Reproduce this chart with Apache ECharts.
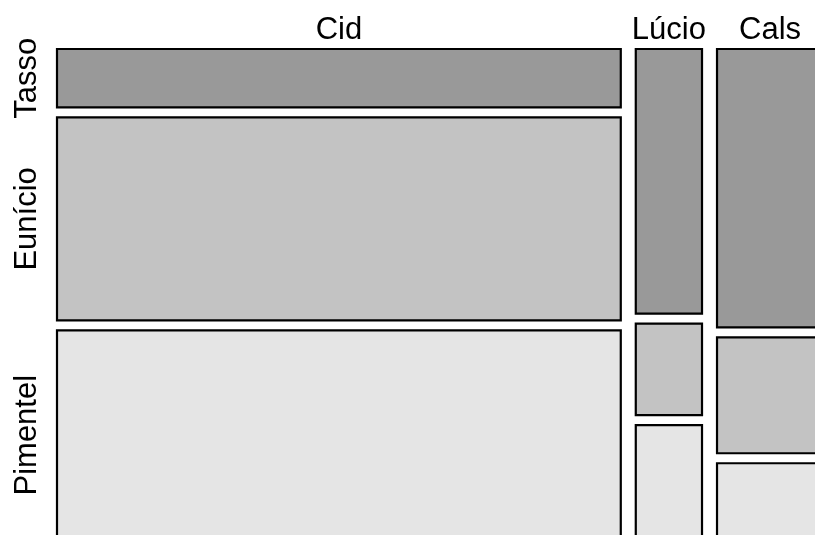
<!DOCTYPE html>
<html>
<head>
<meta charset="utf-8">
<script src="https://cdn.jsdelivr.net/npm/echarts@6/dist/echarts.min.js"></script>
<style>
  html, body { margin: 0; padding: 0; background: #fff; }
  #chart { width: 815px; height: 535px; }
</style>
</head>
<body>
<div id="chart"></div>
<script>
  var columns = ['Cid', 'Lúcio', 'Cals'];
  var rows = ['Tasso', 'Eunício', 'Pimentel'];
  var colShare = [76.6, 9.0, 14.4];
  var tasso = [12.4, 56.2, 59.1];
  var eunicio = [43.1, 19.4, 24.6];
  var pimentel = [44.5, 24.4, 16.3];

  var fills = ['#999999', '#c3c3c3', '#e5e5e5'];
  var gapX = 15, gapY = 10;

  var rowVals = [tasso, eunicio, pimentel];
  var cells = [];
  var cx = 0;
  for (var i = 0; i < columns.length; i++) {
    var cy = 0;
    for (var j = 0; j < rows.length; j++) {
      var v = rowVals[j][i];
      cells.push([i, j, cx, cx + colShare[i], cy, cy + v]);
      cy += v;
    }
    cx += colShare[i];
  }

  var chart = echarts.init(document.getElementById('chart'));

  var option = {
    animation: false,
    grid: { left: 57, top: 49, width: 736, height: 471 },
    xAxis: { type: 'value', min: 0, max: 100, show: false },
    yAxis: { type: 'value', min: 0, max: 100, inverse: true, show: false },
    series: [{
      type: 'custom',
      clip: false,
      data: cells,
      renderItem: function (params, api) {
        var ci = api.value(0), ri = api.value(1);
        var p0 = api.coord([api.value(2), api.value(4)]);
        var p1 = api.coord([api.value(3), api.value(5)]);
        var x0 = p0[0] + ci * gapX, x1 = p1[0] + ci * gapX;
        var y0 = p0[1] + ri * gapY, y1 = p1[1] + ri * gapY;
        var children = [{
          type: 'rect',
          shape: { x: x0, y: y0, width: x1 - x0, height: y1 - y0 },
          style: { fill: fills[ri], stroke: '#000', lineWidth: 2.2 }
        }];
        if (ri === 0) {
          children.push({
            type: 'text',
            x: (x0 + x1) / 2, y: 30,
            style: {
              text: columns[ci], fill: '#000',
              font: '31px "Liberation Sans", Arial, sans-serif',
              align: 'center', verticalAlign: 'middle'
            }
          });
        }
        if (ci === 0) {
          children.push({
            type: 'text',
            x: 27, y: (y0 + y1) / 2,
            rotation: Math.PI / 2,
            style: {
              text: rows[ri], fill: '#000',
              font: '31px "Liberation Sans", Arial, sans-serif',
              align: 'center', verticalAlign: 'middle'
            }
          });
        }
        return { type: 'group', children: children };
      }
    }]
  };

  chart.setOption(option);
  window.addEventListener('resize', function () {
    chart.resize();
  });
</script>
</body>
</html>
